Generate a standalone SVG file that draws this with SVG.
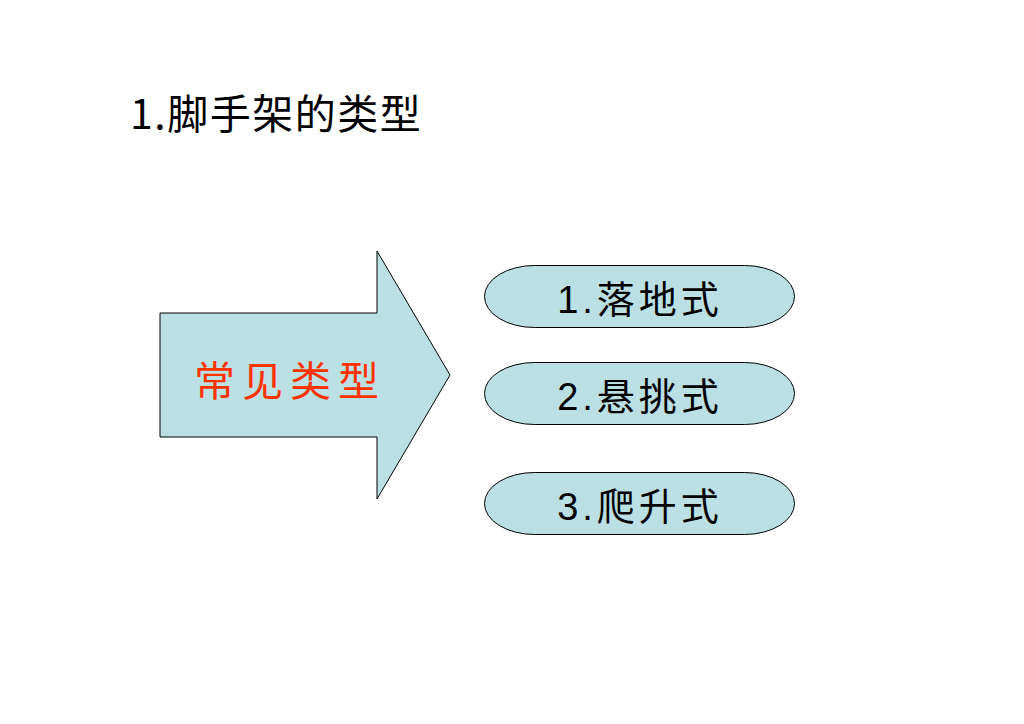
<svg xmlns="http://www.w3.org/2000/svg" width="1024" height="724" viewBox="0 0 1024 724">
<style>
.shape{fill:#BBE0E3;stroke:#000;stroke-width:1}
.lbl{font-family:"Liberation Sans","Noto Sans CJK SC",sans-serif;font-size:38px;fill:#000;text-anchor:middle}
</style>
<rect width="1024" height="724" fill="#fff"/>
<text x="130" y="129" font-family="'Noto Sans CJK SC',sans-serif" font-size="41" fill="#000" letter-spacing="1.5">1.脚手架的类型</text>
<g id="arrow">
<polygon class="shape" points="160,313 377,313 377,251 450,375 377,499 377,437 160,437"/>
<text x="290" y="396" font-family="'Noto Sans CJK SC',sans-serif" font-size="41" fill="#FF3300" text-anchor="middle" letter-spacing="7">常见类型</text>
</g>
<g id="n1">
<rect class="shape" x="484.5" y="265.5" width="310" height="62" rx="50" ry="31"/>
<text class="lbl" x="640" y="313" letter-spacing="4">1.落地式</text>
</g>
<g id="n2">
<rect class="shape" x="484.5" y="362.5" width="310" height="62" rx="50" ry="31"/>
<text class="lbl" x="640" y="410" letter-spacing="4">2.悬挑式</text>
</g>
<g id="n3">
<rect class="shape" x="484.5" y="472.5" width="310" height="62" rx="50" ry="31"/>
<text class="lbl" x="640" y="520" letter-spacing="4">3.爬升式</text>
</g>
<g id="connectors"></g>
</svg>
